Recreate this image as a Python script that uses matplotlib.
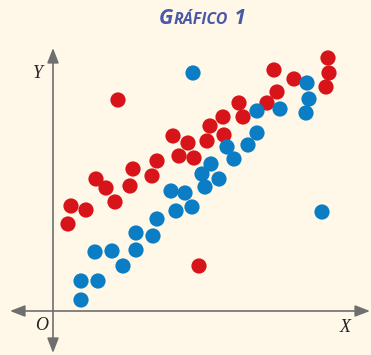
import matplotlib
matplotlib.use("Agg")
import matplotlib.pyplot as plt

# --- data (origin at O, arbitrary units) ---
red_x = [6.5, 22.1, 27.5, 27.6, 27.3, 24.1, 22.4, 21.4, 18.6, 17.0, 19.0, 15.7, 17.1, 12.0, 13.5,
         15.4, 12.6, 14.1, 10.4, 8.0, 9.9, 4.3, 7.7, 5.3, 6.2, 1.8, 3.3, 1.5, 14.6]
red_y = [21.1, 24.1, 25.3, 23.8, 22.4, 23.2, 21.9, 20.8, 20.8, 19.4, 19.4, 18.5, 17.6, 17.5, 16.8,
         17.0, 15.5, 15.3, 15.0, 14.2, 13.5, 13.2, 12.5, 12.3, 10.9, 10.5, 10.1, 8.7, 4.5]

blue_x = [14.0, 25.4, 25.6, 25.3, 20.4, 22.7, 20.4, 19.5, 17.4, 18.1, 15.8, 14.9, 16.6, 15.2, 11.8,
          13.2, 13.9, 12.3, 10.4, 26.9, 8.3, 10.0, 4.2, 5.9, 8.3, 7.0, 2.8, 4.5, 2.8]
blue_y = [23.8, 22.8, 21.2, 19.8, 20.0, 20.2, 17.8, 16.6, 16.4, 15.2, 14.7, 13.7, 13.2, 12.4, 12.0,
          11.8, 10.4, 10.0, 9.2, 9.9, 7.8, 7.5, 5.9, 6.0, 6.1, 4.5, 3.0, 3.0, 1.1]

bg = "#fff7e8"
red = "#d7141a"
blue = "#0a7dc4"
grey = "#6f6f6f"

fig = plt.figure(figsize=(3.71, 3.55), dpi=100, facecolor=bg)
ax = fig.add_axes([0, 0, 1, 1])
ax.set_facecolor(bg)
ax.set_xlim(-5.3, 31.8)
ax.set_ylim(-4.4, 31.1)
ax.axis("off")

# axes with arrows at both ends
arrow = dict(arrowstyle="<|-|>,head_length=0.9,head_width=0.35", color=grey, lw=1.2,
             shrinkA=0, shrinkB=0)
ax.annotate("", xy=(31.7, 0), xytext=(-4.3, 0), arrowprops=arrow)
ax.annotate("", xy=(0, 26.3), xytext=(0, -4.2), arrowprops=arrow)

ax.scatter(red_x, red_y, s=120, color=red, edgecolors="none", zorder=3)
ax.scatter(blue_x, blue_y, s=120, color=blue, edgecolors="none", zorder=3)

serif = dict(family="Liberation Serif", style="italic", fontsize=13, color="#222222")
ax.text(-1.5, 23.8, "Y", ha="center", va="center", **serif)
ax.text(-1.1, -1.4, "O", ha="center", va="center", **serif)
ax.text(29.2, -1.7, "X", ha="center", va="center", **serif)

# title in small caps
tcol = "#4a58a6"
tkw = dict(family="Open Sans", weight="bold", style="italic", color=tcol, va="baseline")
fig.canvas.draw()
r = fig.canvas.get_renderer()
x0, ybase = 159, 355 - 24
parts = [("G", 15), ("RÁFICO", 11.5), (" 1", 15)]
x = x0
for s, fs in parts:
    t = fig.text(x / 371, ybase / 355, s, fontsize=fs, **tkw)
    bb = t.get_window_extent(r)
    x = bb.x1 + 0.5

fig.savefig("out.png", dpi=100, facecolor=bg)
